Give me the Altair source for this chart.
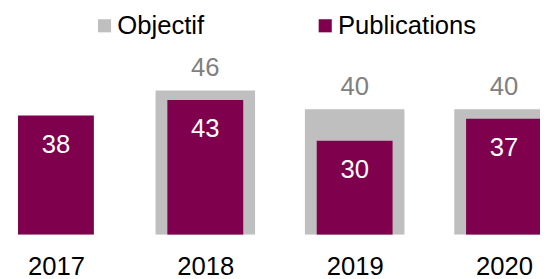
import altair as alt
import pandas as pd

years = [2017, 2018, 2019, 2020]
objectif = [None, 46, 40, 40]
publications = [38, 43, 30, 37]
series = ["Objectif", "Publications"]
colors = ["#BFBFBF", "#7F004D"]

rows = []
for yr, o, p in zip(years, objectif, publications):
    if o is not None:
        rows.append({"annee": yr, "serie": "Objectif", "valeur": o})
    rows.append({"annee": yr, "serie": "Publications", "valeur": p})
df = pd.DataFrame(rows)

FONT = "Liberation Sans"
FS = 26

x = alt.X(
    "annee:Q",
    scale=alt.Scale(domain=[2016.679, 2020.241], nice=False, zero=False, padding=0),
    axis=alt.Axis(values=years, format="d", labelFontSize=FS, labelColor="black",
                  labelFont=FONT, domain=False, ticks=False, grid=False,
                  labelPadding=19, title=None),
)
y = alt.Y("valeur:Q", scale=alt.Scale(domain=[0, 71.7], nice=False, padding=0), axis=None)
color = alt.Color(
    "serie:N",
    scale=alt.Scale(domain=series, range=colors),
    legend=alt.Legend(title=None, orient="none", legendX=85, legendY=3,
                      direction="horizontal", symbolType="square", symbolSize=177,
                      labelFontSize=FS, labelFont=FONT, labelColor="black",
                      columnPadding=109, labelOffset=0, padding=0,
                      symbolStrokeWidth=0),
)

base = alt.Chart(df).encode(x=x, y=y)
is_obj = alt.datum.serie == "Objectif"
is_pub = alt.datum.serie == "Publications"

gray_bars = base.transform_filter(is_obj).mark_bar(size=101, clip=True).encode(color=color)
pub_bars = base.transform_filter(is_pub).mark_bar(size=77, clip=True).encode(color=color)
gray_text = base.transform_filter(is_obj).mark_text(
    dy=-15, baseline="alphabetic", fontSize=FS, font=FONT, color="#808080", clip=True
).encode(text="valeur:Q")
pub_text = base.transform_filter(is_pub).mark_text(
    dy=38, baseline="alphabetic", fontSize=FS, font=FONT, color="white", clip=True
).encode(text="valeur:Q")

chart = alt.layer(gray_bars, pub_bars, gray_text, pub_text).properties(
    width=540, height=228,
    autosize=alt.AutoSizeParams(type="none"),
    padding={"left": 0, "top": 0, "right": 0, "bottom": 45},
).configure_view(stroke=None)

chart.save("out.html", embed_options={"renderer": "svg", "actions": False})
